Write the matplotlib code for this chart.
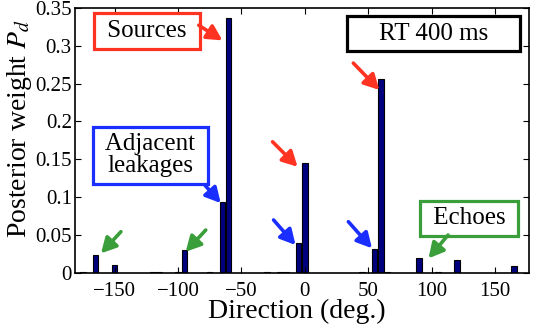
import matplotlib
matplotlib.use("Agg")
import matplotlib.pyplot as plt

# Data
directions = [-175, -165, -150, -120, -115, -100, -95, -75, -65, -60, -30, -20,
              -15, -5, 0, 45, 55, 60, 65, 90, 105, 120, 165]
weights = [0.001, 0.024, 0.0098, 0.001, 0.001, 0.001, 0.030, 0.001, 0.093, 0.336,
           0.001, 0.001, 0.001, 0.039, 0.145, 0.001, 0.032, 0.2565, 0.001, 0.019,
           0.001, 0.0164, 0.0089]
xticks = [-150, -100, -50, 0, 50, 100, 150]
xtick_labels = ["\u2212150", "\u2212100", "\u221250", "0", "50", "100", "150"]
yticks = [0, 0.05, 0.1, 0.15, 0.2, 0.25, 0.3, 0.35]
ytick_labels = ["0", "0.05", "0.1", "0.15", "0.2", "0.25", "0.3", "0.35"]

plt.rcParams['font.family'] = ['Liberation Serif', 'DejaVu Serif']
plt.rcParams['mathtext.fontset'] = 'stix'

fig = plt.figure(figsize=(5.37, 3.27), dpi=100)
ax = fig.add_axes([0.139, 0.166, 0.846, 0.81])

ax.bar(directions, weights, width=4.4, color='#00007f', edgecolor='black', linewidth=0.8)

ax.set_xlim(-181.5, 176.8)
ax.set_ylim(0, 0.35)
ax.set_xticks(xticks)
ax.set_xticklabels(xtick_labels)
ax.set_yticks(yticks)
ax.set_yticklabels(ytick_labels)
ax.tick_params(direction='in', top=True, right=True, labelsize=15, length=4, width=0.8)
ax.tick_params(axis='x', pad=7)
ax.tick_params(axis='y', pad=2)
for s in ax.spines.values():
    s.set_linewidth(1.2)

ax.set_xlabel("Direction (deg.)", fontsize=20, va='top')
ax.xaxis.set_label_coords(0.49, -0.098)
ax.set_ylabel("Posterior weight $P_d$", fontsize=20)
ax.yaxis.set_label_coords(-0.09, 0.545)

red = '#ff3322'
blue = '#1a2eff'
green = '#3a9e3a'
FS = 18

def box_text(x, y, s, color, pad=0.27):
    ax.text(x, y, s, fontsize=FS, ha='center', va='center', zorder=5, linespacing=1.0,
            bbox=dict(boxstyle='square,pad=%g' % pad, fc='white', ec=color, lw=2.3))

def arrow(x0, y0, x1, y1, color):
    ax.annotate('', xy=(x1, y1), xytext=(x0, y0), zorder=6,
                arrowprops=dict(arrowstyle='-|>,head_length=0.6,head_width=0.32',
                                color=color, lw=2.6,
                                mutation_scale=15, shrinkA=0, shrinkB=0))

box_text(-124.5, 0.3195, " Sources ", red)
box_text(101.3, 0.316, "    RT 400 ms    ", 'black')
box_text(-121.4, 0.155, " Adjacent \nleakages", blue)
box_text(129.6, 0.0719, " Echoes ", green)

arrow(-83.6, 0.327, -65, 0.307, red)
arrow(-25.4, 0.173, -5.7, 0.140, red)
arrow(38.3, 0.277, 58.8, 0.2415, red)

arrow(-78.9, 0.116, -66.3, 0.092, blue)
arrow(-24.6, 0.0697, -7.3, 0.0366, blue)
arrow(34.4, 0.0674, 53, 0.0323, blue)

arrow(-145, 0.0542, -160.7, 0.0256, green)
arrow(-78.1, 0.0564, -93.9, 0.0278, green)
arrow(113, 0.0498, 97.6, 0.019, green)

fig.savefig("out.png", dpi=100)
